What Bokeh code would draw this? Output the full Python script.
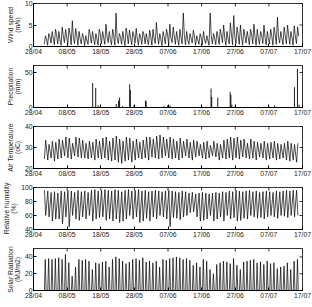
from bokeh.plotting import figure
from bokeh.layouts import column
from bokeh.models import FixedTicker, Range1d
from bokeh.embed import file_html
from bokeh.resources import INLINE

# ---------------- data ----------------
date_ticks = [0, 10, 20, 30, 40, 50, 60, 70, 80]
date_labels = ["28/04", "08/05", "18/05", "28/05", "07/06", "17/06", "27/06", "07/07", "17/07"]
first_day = 3  # first day of record (days after 28/04)

wind_peak = [2.5, 3, 3.5, 4, 3.5, 4.5, 4, 4.3, 6.0, 4.2,
             3.5, 3, 2.5, 4, 3.5, 3, 4, 3.5, 5.2, 3.5,
             4, 7.8, 3, 3.5, 4.3, 3.8, 3.5, 4.2, 3, 3.5,
             3, 3.8, 4, 5.6, 3, 3.5, 4, 5.2, 4.5, 3.5,
             4, 7.8, 3.5, 3, 3.8, 2.5, 3, 3.5, 2.5, 7.8,
             3, 3.5, 4, 5, 3.5, 5.5, 7.2, 4.5, 5, 4,
             3.5, 4, 5.2, 4, 3.5, 5, 3.5, 4, 4.5, 6.8,
             3.5, 4.5, 5, 3.5, 4.8, 4.5]
wind_low = [0.5, 0.3, 0.8, 0.4, 0.6, 0.3, 0.9, 0.5, 0.4, 0.7,
            0.3, 0.6, 0.2, 0.5, 0.8, 0.4, 0.3, 0.6, 0.5, 0.9,
            0.4, 0.3, 0.7, 0.5, 0.2, 0.6, 0.4, 0.8, 0.3, 0.5,
            0.6, 0.4, 0.3, 0.7, 0.5, 0.2, 0.6, 0.4, 0.9, 0.5,
            0.3, 0.6, 0.4, 0.5, 0.8, 0.3, 0.5, 0.4, 0.7, 0.3,
            0.6, 0.4, 0.5, 0.9, 0.3, 0.6, 0.4, 0.7, 0.5, 0.3,
            0.8, 0.4, 0.6, 0.3, 0.5, 0.7, 0.4, 0.6, 0.3, 0.5,
            0.8, 0.4, 0.6, 0.5, 0.3, 0.7]
wind_second = [1.8, 2.4, 2.0, 2.8, 1.6, 2.5, 2.2, 3.0, 2.1, 2.6,
               1.9, 2.3, 1.5, 2.7, 2.0, 1.8, 2.9, 2.2, 2.4, 1.7,
               2.6, 2.0, 2.3, 1.8, 2.8, 2.1, 2.5, 1.9, 2.2, 2.7,
               1.6, 2.4, 2.0, 2.6, 1.8, 2.3, 2.9, 2.1, 2.5, 1.9,
               2.2, 2.8, 1.7, 2.0, 2.4, 1.6, 2.1, 1.8, 1.5, 2.6,
               2.0, 2.4, 2.7, 2.2, 1.9, 3.0, 2.5, 2.8, 2.3, 2.6,
               2.1, 2.9, 2.4, 2.0, 2.7, 2.2, 1.8, 2.5, 2.9, 2.3,
               2.0, 2.6, 2.8, 2.2, 2.5, 2.4]

precip_day = [17.6, 18.5, 19.2, 19.9, 24.6, 25.3, 25.6, 26.5, 28.6, 28.8,
              29.9, 33.3, 33.5, 38.8, 39.9, 40.6, 52.8, 53.0, 54.8, 58.5,
              58.7, 59.0, 60.0, 70.0, 71.7, 77.6, 78.5, 79.0]
precip_mm = [35, 28, 3, 3, 5, 10, 14, 2, 33, 25,
             3, 10, 9, 2, 3, 3, 27, 15, 14, 22,
             18, 4, 3, 2, 3, 29, 55, 4]

temp_max = [33.5, 31.5, 33, 32.5, 34, 33.5, 35, 34.5, 32, 35,
            34.5, 33.5, 32, 33, 32.5, 34, 33, 34.5, 35, 33,
            34.5, 35.5, 34, 33, 35, 34.5, 33, 34, 32.5, 33.5,
            35, 35, 34, 35.5, 36, 35, 34, 35, 34, 33,
            34.5, 33, 34, 32.5, 33.5, 33, 31.5, 32.5, 33, 31,
            33, 32, 31.5, 33.5, 34, 35, 34.5, 35, 33.5, 34,
            32, 34, 33, 32.5, 32, 33, 32, 32.5, 33, 32,
            31.5, 32, 33, 32, 31.5, 32]
temp_min = [24.5, 24, 25, 23.5, 24.5, 25, 26, 25, 24.5, 26,
            25.5, 25, 25, 24.5, 25, 24, 25, 24.5, 25, 24,
            23.5, 24, 23, 22.5, 23.5, 24, 23, 24, 25, 24.5,
            25, 24, 25.5, 25, 24.5, 25, 26, 25, 24.5, 25,
            24, 25, 26, 25, 24, 25.5, 26, 25, 24.5, 25,
            26, 25.5, 24, 25, 24.5, 25, 24, 25, 24.5, 25.5,
            25, 24.5, 25, 24, 25.5, 25, 24, 24.5, 25, 24,
            24.5, 25, 24, 23.5, 24, 23]

rh_max = [96, 95, 93, 94, 92, 95, 94, 96, 95, 93,
          96, 94, 95, 93, 96, 97, 95, 96, 97, 96,
          95, 97, 96, 94, 96, 97, 95, 96, 97, 95,
          96, 94, 95, 96, 95, 94, 95, 96, 95, 94,
          93, 95, 94, 92, 93, 91, 92, 93, 92, 91,
          92, 93, 92, 94, 93, 95, 94, 96, 95, 94,
          95, 96, 94, 95, 93, 94, 95, 94, 93, 95,
          94, 95, 96, 95, 96, 96]
rh_min = [60, 58, 52, 55, 55, 48, 58, 44, 60, 55,
          53, 58, 55, 60, 52, 55, 57, 58, 53, 55,
          52, 55, 50, 52, 55, 60, 55, 58, 50, 52,
          56, 52, 58, 55, 60, 58, 55, 44, 57, 56,
          54, 58, 60, 64, 65, 58, 52, 53, 55, 60,
          52, 55, 58, 52, 60, 55, 57, 52, 53, 56,
          55, 60, 58, 56, 57, 55, 58, 60, 58, 56,
          60, 59, 57, 60, 58, 60]

solar_peak = [37, 38, 37, 38, 39, 37, 43, 33, 17, 28,
              37, 36, 37, 35, 25, 33, 32, 34, 35, 28,
              37, 40, 38, 35, 32, 34, 37, 38, 36, 39,
              34, 35, 33, 35, 28, 37, 36, 38, 39, 40,
              39, 37, 38, 36, 30, 33, 28, 37, 35, 25,
              20, 31, 33, 35, 34, 32, 38, 30, 25, 34,
              35, 36, 37, 33, 34, 31, 35, 32, 33, 26,
              28, 29, 33, 25, 35, 37]

FONT = "Liberation Sans"
FS = "6.8px"
LABEL_FS = "6.8px"


def make_fig(ylabel, yr, yticks, height=61, top=6):
    p = figure(width=312, height=height,
               x_range=Range1d(0, 80), y_range=Range1d(*yr),
               output_backend="svg", toolbar_location=None,
               min_border_left=29, min_border_right=10,
               min_border_top=top, min_border_bottom=13,
               background_fill_color="white", border_fill_color="white")
    p.xgrid.visible = False
    p.ygrid.visible = False
    p.outline_line_color = "black"
    p.outline_line_width = 0.8
    p.xaxis.ticker = FixedTicker(ticks=date_ticks)
    p.xaxis.major_label_overrides = {t: l for t, l in zip(date_ticks, date_labels)}
    p.yaxis.ticker = FixedTicker(ticks=yticks)
    for ax in (p.xaxis[0], p.yaxis[0]):
        ax.major_tick_in = 3
        ax.major_tick_out = 0
        ax.minor_tick_line_color = None
        ax.major_label_text_font = FONT
        ax.major_label_text_font_size = FS
        ax.major_label_text_color = "#222222"
        ax.axis_line_color = "black"
        ax.major_tick_line_color = "black"
        ax.major_label_standoff = 1
    p.yaxis.axis_label = ylabel
    p.yaxis.axis_label_text_font = FONT
    p.yaxis.axis_label_text_font_size = LABEL_FS
    p.yaxis.axis_label_text_font_style = "normal"
    p.yaxis.axis_label_text_color = "#222222"
    p.yaxis.axis_label_text_line_height = 1.0
    p.yaxis.axis_label_standoff = 1
    # inward ticks on the top and right edges of the box (Matlab style)
    p.scatter(x=date_ticks, y=[yr[1]] * len(date_ticks), marker="dash", angle=1.5708,
              size=6, line_color="black", line_width=0.8)
    p.scatter(x=[80] * len(yticks), y=yticks, marker="dash",
              size=6, line_color="black", line_width=0.8)
    return p


LW = 0.7

# Wind speed
p1 = make_fig("Wind speed\n(m/s)", (0, 10), [0, 5, 10], height=59, top=3)
wx, wy = [], []
for i in range(len(wind_peak)):
    d = first_day + i
    wx += [d + 0.2, d + 0.55, d + 0.85]
    wy += [wind_low[i], wind_peak[i], wind_second[i]]
p1.line(wx, wy, line_color="black", line_width=LW)

# Precipitation
p2 = make_fig("Precipitation\n(mm)", (0, 60), [0, 50])
p2.segment(x0=precip_day, y0=[0] * len(precip_day), x1=precip_day, y1=precip_mm,
           line_color="black", line_width=0.9)

# Air temperature
p3 = make_fig("Air Temperature\n(oC)", (20, 40), [20, 30, 40])
tx, ty = [], []
for i in range(len(temp_max)):
    d = first_day + i
    tx += [d + 0.25, d + 0.62]
    ty += [temp_min[i], temp_max[i]]
p3.line(tx, ty, line_color="black", line_width=LW)

# Relative humidity
p4 = make_fig("Relative humidity\n(%)", (40, 100), [40, 60, 80, 100])
hx, hy = [], []
for i in range(len(rh_max)):
    d = first_day + i
    hx += [d + 0.25, d + 0.62]
    hy += [rh_max[i], rh_min[i]]
p4.line(hx, hy, line_color="black", line_width=LW)

# Solar radiation
p5 = make_fig("Solar Radiation\n(MJ/m2)", (0, 50), [0, 20, 40])
sx, sy = [], []
for i in range(len(solar_peak)):
    d = first_day + i
    sx += [d + 0.25, d + 0.5, d + 0.75]
    sy += [0, solar_peak[i], 0]
p5.line(sx, sy, line_color="black", line_width=LW)

layout = column(p1, p2, p3, p4, p5, spacing=0)
open("out.html", "w").write(file_html(layout, INLINE))
